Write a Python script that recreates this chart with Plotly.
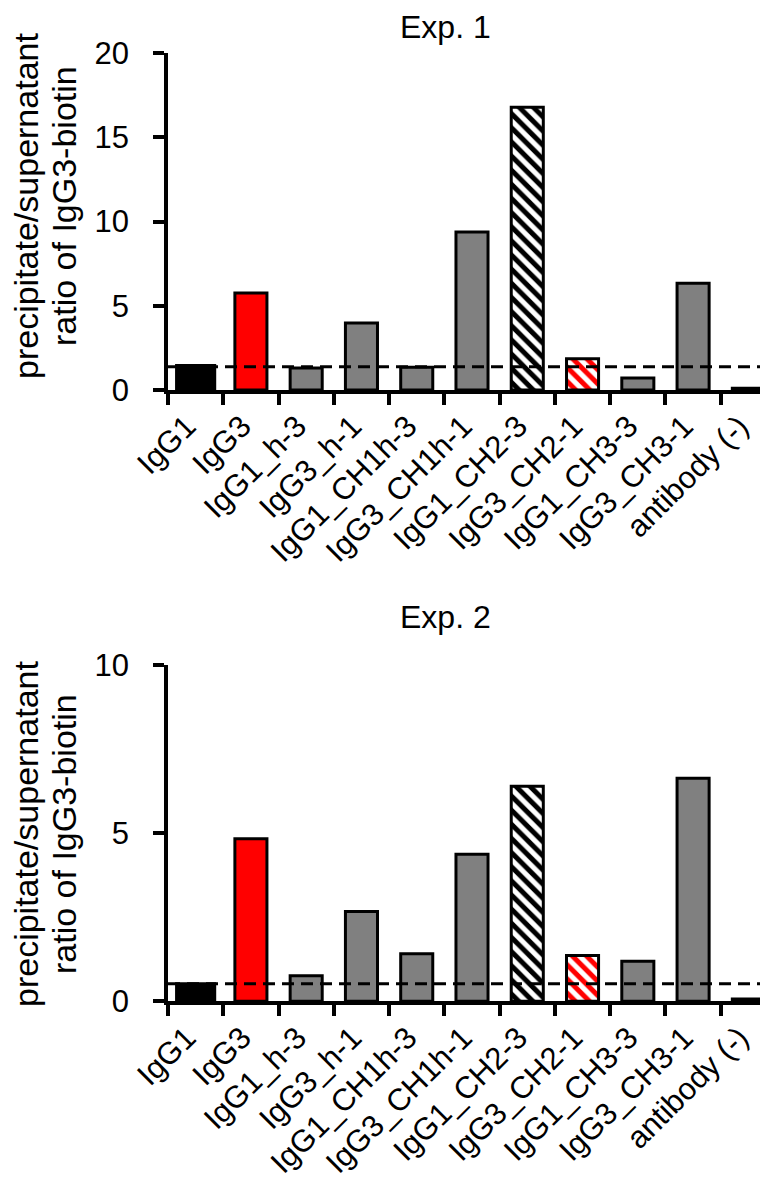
import plotly.graph_objects as go
from plotly.subplots import make_subplots

categories = ["IgG1", "IgG3", "IgG1_h-3", "IgG3_h-1", "IgG1_CH1h-3", "IgG3_CH1h-1",
              "IgG1_CH2-3", "IgG3_CH2-1", "IgG1_CH3-3", "IgG3_CH3-1", "antibody (-)"]
exp1_values = [1.45, 5.76, 1.3, 3.98, 1.35, 9.38, 16.78, 1.86, 0.71, 6.33, 0.1]
exp2_values = [0.52, 4.83, 0.76, 2.67, 1.41, 4.37, 6.39, 1.36, 1.19, 6.63, 0.07]
exp1_cutoff = 1.38
exp2_cutoff = 0.52
panel_titles = ["Exp. 1", "Exp. 2"]
y_title_lines = ["precipitate/supernatant", "ratio of IgG3-biotin"]

FONT = "Liberation Sans, Arial, sans-serif"
W, H = 768, 1180
L = 160

solid_color = {"IgG1": "black", "IgG3": "red"}
hatch_color = {"IgG1_CH2-3": "black", "IgG3_CH2-1": "red"}

fig = make_subplots(rows=2, cols=1)

for row, vals in [(1, exp1_values), (2, exp2_values)]:
    xs = [c for c in categories if c not in hatch_color]
    ys = [v for c, v in zip(categories, vals) if c not in hatch_color]
    fig.add_trace(go.Bar(
        x=xs, y=ys,
        width=[0.69 if c == "IgG1" else 0.58 for c in xs],
        marker=dict(color=[solid_color.get(c, "#808080") for c in xs],
                    line=dict(color="black", width=3)),
        showlegend=False), row=row, col=1)
    for c, col in hatch_color.items():
        i = categories.index(c)
        fig.add_trace(go.Bar(
            x=[c], y=[vals[i]], width=0.58,
            marker=dict(color="white", line=dict(color="black", width=3),
                        pattern=dict(shape="\\", fgcolor=col, bgcolor="white",
                                     fgopacity=1, size=10, solidity=0.5)),
            showlegend=False), row=row, col=1)

fig.add_hline(y=exp1_cutoff, row=1, col=1,
              line=dict(color="black", width=3, dash="12px,7px"))
fig.add_hline(y=exp2_cutoff, row=2, col=1,
              line=dict(color="black", width=3, dash="12px,7px"))

def px_y(p):
    return 1 - p / H

axis_common = dict(showline=True, linecolor="black", linewidth=3.5, ticks="outside",
                   ticklen=11, tickwidth=3.5, tickcolor="black", showgrid=False,
                   zeroline=False, automargin=False)

fig.update_xaxes(**axis_common, tickangle=-45, tickson="boundaries",
                 categoryorder="array", categoryarray=categories,
                 ticklabelstandoff=2, ticklabelshift=-9,
                 tickfont=dict(family=FONT, size=31, color="black"),
                 domain=[0, 1])
fig.update_yaxes(**axis_common, dtick=5, ticklabelstandoff=18,
                 tickfont=dict(family=FONT, size=31, color="black"))
fig.update_yaxes(range=[0, 20], domain=[px_y(382), px_y(45)], row=1, col=1)
fig.update_yaxes(range=[0, 10], domain=[px_y(993.3), px_y(656.7)], row=2, col=1)

ann = []
for title, yt in zip(panel_titles, [0, 590]):
    ann.append(dict(text=title, xref="paper", yref="paper", x=(437 - L) / (W - L),
                    y=px_y(yt), xanchor="center", yanchor="top", showarrow=False,
                    borderpad=0, font=dict(family=FONT, size=32, color="black")))
for yc in [198, 826]:
    for line, xc in zip(y_title_lines, [18, 56]):
        ann.append(dict(text=line, xref="paper", yref="paper", x=(xc - L) / (W - L),
                        y=px_y(yc), xanchor="center", yanchor="middle",
                        showarrow=False, textangle=-90, borderpad=0,
                        font=dict(family=FONT, size=34, color="black")))

fig.update_layout(width=W, height=H, margin=dict(l=L, r=0, t=0, b=0),
                  plot_bgcolor="white", paper_bgcolor="white",
                  annotations=ann, barmode="overlay")

fig.write_html("out.html")
